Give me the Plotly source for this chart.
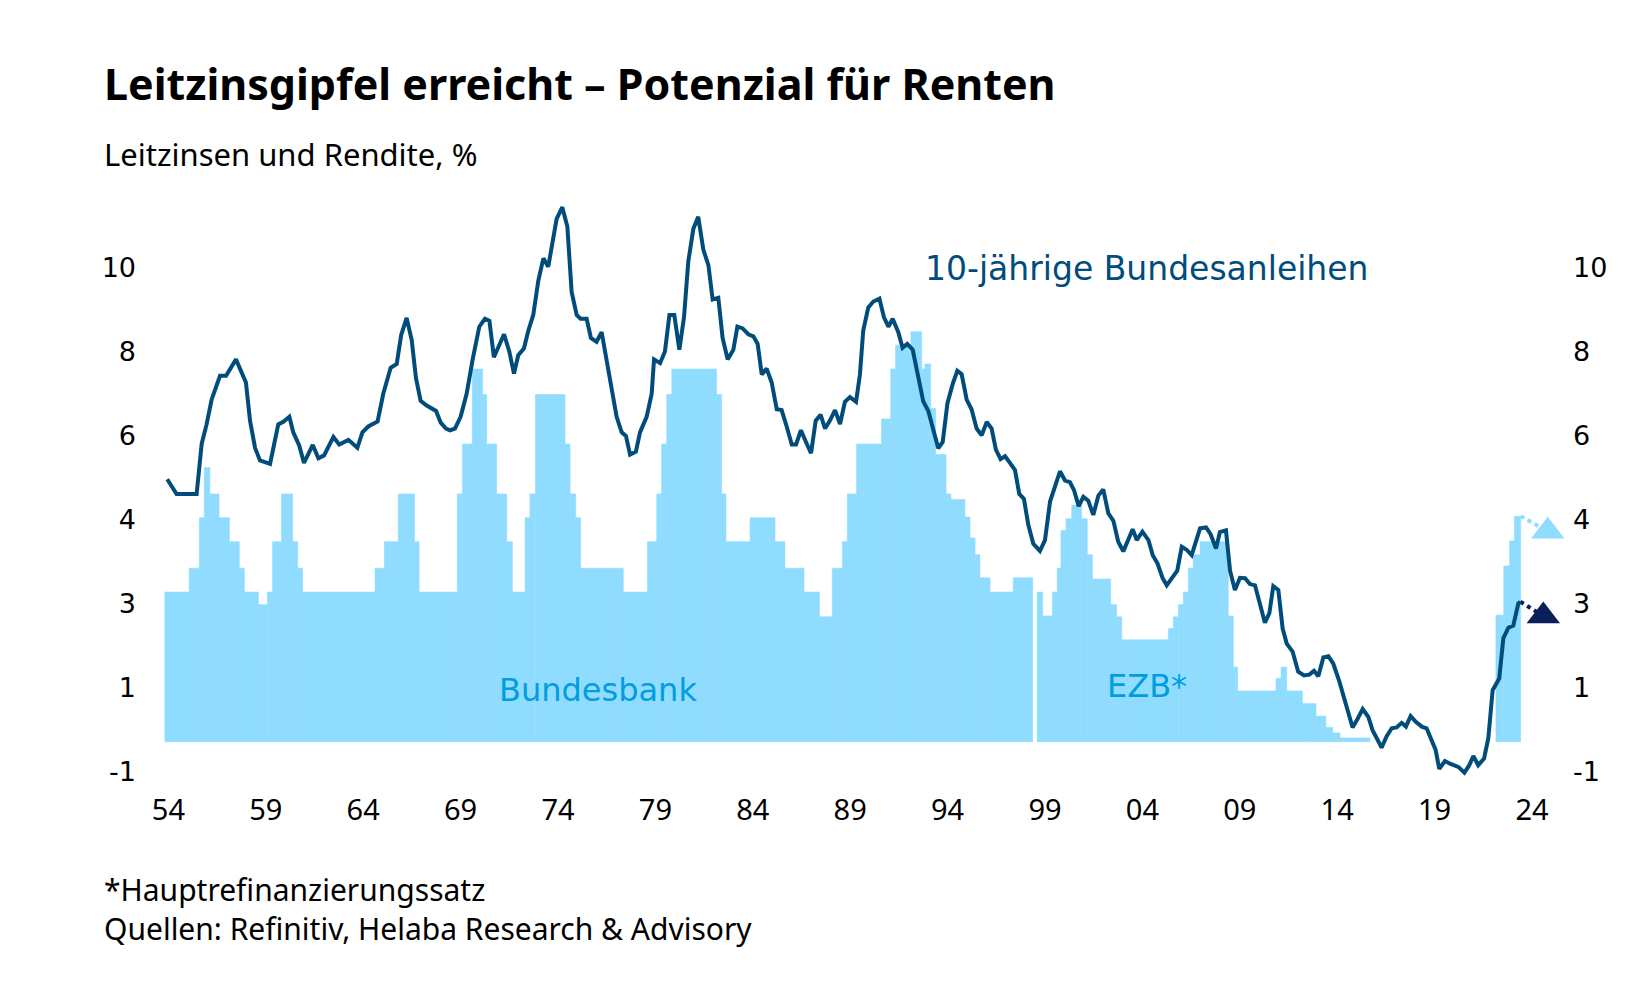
import plotly.graph_objects as go

# ---------------- data (in axis units) ----------------
bund_years = [1953.94, 1954.42, 1955.45, 1955.71, 1955.96, 1956.22, 1956.65, 1956.96, 1957.47, 1957.98,
              1958.19, 1958.45, 1958.70, 1959.22, 1959.64, 1959.90, 1960.21, 1960.41, 1960.72, 1960.96,
              1961.41, 1961.70, 1961.99, 1962.47, 1962.77, 1963.24, 1963.70, 1963.96, 1964.26, 1964.74,
              1965.03, 1965.41, 1965.72, 1965.95, 1966.23, 1966.49, 1966.71, 1966.95, 1967.26, 1967.74,
              1967.98, 1968.25, 1968.46, 1968.71, 1969.00, 1969.31, 1969.62, 1969.96, 1970.25, 1970.48,
              1970.71, 1970.94, 1971.23, 1971.50, 1971.74, 1971.96, 1972.25, 1972.48, 1972.73, 1972.99,
              1973.25, 1973.50, 1973.93, 1974.22, 1974.48, 1974.70, 1974.96, 1975.16, 1975.47, 1975.69,
              1975.98, 1976.24, 1976.50, 1976.75, 1977.01, 1977.27, 1977.49, 1977.70, 1978.00, 1978.21,
              1978.55, 1978.81, 1978.93, 1979.24, 1979.49, 1979.72, 1979.97, 1980.23, 1980.47, 1980.69,
              1980.95, 1981.20, 1981.46, 1981.72, 1981.94, 1982.23, 1982.45, 1982.71, 1983.00, 1983.21,
              1983.48, 1983.77, 1984.03, 1984.25, 1984.46, 1984.71, 1984.97, 1985.23, 1985.48, 1985.74,
              1986.00, 1986.22, 1986.47, 1986.73, 1986.99, 1987.23, 1987.48, 1987.71, 1987.96, 1988.22,
              1988.48, 1988.73, 1988.99, 1989.30, 1989.50, 1989.67, 1989.93, 1990.19, 1990.50, 1990.73,
              1990.96, 1991.18, 1991.47, 1991.69, 1991.93, 1992.21, 1992.50, 1992.75, 1993.01, 1993.27,
              1993.52, 1993.75, 1993.99, 1994.26, 1994.50, 1994.72, 1994.98, 1995.23, 1995.49, 1995.75,
              1996.01, 1996.26, 1996.48, 1996.72, 1996.95, 1997.20, 1997.46, 1997.68, 1997.92, 1998.14,
              1998.40, 1998.74, 1999.00, 1999.26, 1999.51, 1999.77, 2000.03, 2000.28, 2000.49, 2000.73,
              2000.97, 2001.22, 2001.48, 2001.74, 2001.99, 2002.25, 2002.51, 2002.76, 2003.02, 2003.28,
              2003.50, 2003.71, 2004.00, 2004.31, 2004.53, 2004.77, 2005.04, 2005.25, 2005.50, 2005.79,
              2006.02, 2006.27, 2006.53, 2006.79, 2006.96, 2007.27, 2007.50, 2007.78, 2007.98, 2008.29,
              2008.50, 2008.75, 2009.01, 2009.27, 2009.52, 2009.78, 2010.04, 2010.29, 2010.52, 2010.72,
              2010.98, 2011.20, 2011.41, 2011.71, 2012.00, 2012.30, 2012.57, 2012.81, 2013.03, 2013.29,
              2013.55, 2013.80, 2014.11, 2014.45, 2014.79, 2015.03, 2015.31, 2015.60, 2015.82, 2016.06,
              2016.28, 2016.54, 2016.80, 2017.05, 2017.31, 2017.53, 2017.77, 2018.05, 2018.34, 2018.59,
              2018.80, 2019.05, 2019.24, 2019.53, 2019.82, 2020.22, 2020.53, 2020.78, 2020.99, 2021.24,
              2021.54, 2021.76, 2021.98, 2022.32, 2022.53, 2022.79, 2023.04, 2023.30, 2023.40]
bund_values = [4.96, 4.61, 4.61, 5.81, 6.27, 6.86, 7.43, 7.43, 7.82, 7.27,
               6.36, 5.71, 5.41, 5.33, 6.27, 6.33, 6.45, 6.08, 5.76, 5.35,
               5.78, 5.46, 5.53, 5.97, 5.79, 5.90, 5.71, 6.08, 6.22, 6.34,
               7.00, 7.62, 7.71, 8.40, 8.81, 8.28, 7.37, 6.83, 6.72, 6.59,
               6.31, 6.17, 6.13, 6.17, 6.45, 7.00, 7.82, 8.60, 8.79, 8.74,
               7.87, 8.10, 8.42, 8.01, 7.48, 7.92, 8.08, 8.51, 8.88, 9.70,
               10.23, 10.03, 11.17, 11.45, 10.99, 9.43, 8.88, 8.79, 8.79, 8.33,
               8.24, 8.47, 7.78, 7.05, 6.45, 6.08, 5.99, 5.55, 5.62, 6.08,
               6.45, 7.00, 7.82, 7.73, 8.01, 8.88, 8.88, 8.05, 8.83, 10.16,
               10.94, 11.22, 10.44, 10.07, 9.25, 9.29, 8.33, 7.82, 8.05, 8.60,
               8.56, 8.42, 8.37, 8.19, 7.46, 7.60, 7.27, 6.63, 6.61, 6.22,
               5.79, 5.79, 6.13, 5.85, 5.58, 6.36, 6.50, 6.17, 6.36, 6.61,
               6.28, 6.81, 6.92, 6.81, 7.46, 8.51, 9.06, 9.20, 9.27, 8.83,
               8.60, 8.79, 8.47, 8.10, 8.19, 8.05, 7.32, 6.82, 6.59, 6.13,
               5.70, 5.85, 6.77, 7.23, 7.55, 7.47, 6.86, 6.63, 6.17, 6.01,
               6.33, 6.17, 5.67, 5.44, 5.51, 5.35, 5.18, 4.61, 4.49, 3.88,
               3.42, 3.25, 3.51, 4.43, 4.80, 5.15, 4.93, 4.89, 4.70, 4.32,
               4.54, 4.45, 4.11, 4.57, 4.72, 4.15, 3.97, 3.47, 3.24, 3.51,
               3.77, 3.51, 3.71, 3.51, 3.15, 2.96, 2.60, 2.43, 2.61, 2.78,
               3.35, 3.28, 3.15, 3.51, 3.79, 3.81, 3.65, 3.31, 3.70, 3.74,
               2.78, 2.32, 2.61, 2.60, 2.46, 2.43, 1.95, 1.54, 1.77, 2.41,
               2.32, 1.40, 1.04, 0.85, 0.37, 0.28, 0.30, 0.39, 0.26, 0.71,
               0.74, 0.56, 0.14, -0.39, -0.96, -0.77, -0.52, -0.71, -1.03, -1.24,
               -1.44, -1.17, -0.98, -0.96, -0.85, -0.94, -0.69, -0.83, -0.94, -0.98,
               -1.21, -1.49, -1.95, -1.76, -1.83, -1.90, -2.04, -1.86, -1.64, -1.86,
               -1.70, -1.21, -0.07, 0.21, 1.17, 1.42, 1.47, 2.00, 2.04]

# Forecast markers (triangles)
bund_fc_year = [2024.58]
bund_fc_value = [1.70]
rate_fc_year = [2024.81]
rate_fc_value = [3.72]

# Bar baseline (0 % policy rate in axis units)
BASE = -1.3

# Bundesbank policy rate: step start dates and levels
bb_start = [1953.82, 1955.07, 1955.59, 1955.84, 1956.13, 1956.60, 1957.13, 1957.64, 1957.90, 1958.62,
            1959.08, 1959.35, 1959.81, 1960.38, 1960.64, 1960.89, 1964.61, 1965.09, 1965.80, 1966.63,
            1966.87, 1968.83, 1969.09, 1969.60, 1970.13, 1970.34, 1970.85, 1971.37, 1971.66, 1972.31,
            1972.56, 1972.84, 1974.36, 1974.62, 1974.91, 1975.16, 1977.35, 1978.59, 1979.07, 1979.32,
            1979.58, 1979.84, 1982.14, 1982.40, 1982.62, 1983.86, 1985.14, 1985.65, 1986.63, 1987.42,
            1988.08, 1988.60, 1988.85, 1989.33, 1990.61, 1991.08, 1991.33, 1992.12, 1992.67, 1992.84,
            1993.13, 1993.39, 1993.92, 1994.17, 1994.89, 1995.15, 1995.41, 1995.66, 1996.18, 1997.37]
bb_level = [2.27, 2.84, 4.04, 5.24, 4.61, 4.04, 3.47, 2.84, 2.27, 1.97,
            2.27, 3.47, 4.61, 3.47, 2.84, 2.27, 2.84, 3.47, 4.61, 3.47,
            2.27, 4.61, 5.80, 7.59, 6.98, 5.80, 4.61, 3.47, 2.27, 4.04,
            4.61, 6.98, 5.80, 4.61, 4.04, 2.84, 2.27, 3.47, 4.61, 5.80,
            6.98, 7.59, 6.98, 4.61, 3.47, 4.04, 3.47, 2.84, 2.27, 1.68,
            2.84, 3.47, 4.61, 5.80, 6.40, 7.59, 8.16, 8.48, 7.59, 7.71,
            6.65, 5.55, 4.61, 4.48, 4.06, 3.56, 3.16, 2.61, 2.27, 2.61]
bb_end = 1998.37

# ECB main refinancing rate: step start dates and levels
ecb_start = [1998.60, 1998.88, 1999.38, 1999.63, 1999.82, 2000.08, 2000.37, 2000.88, 2001.17, 2001.43,
             2002.37, 2002.68, 2002.94, 2005.33, 2005.59, 2005.85, 2006.10, 2006.36, 2006.61, 2006.96,
             2008.41, 2008.67, 2008.89, 2010.86, 2011.12, 2011.41, 2012.21, 2012.91, 2013.42, 2013.77,
             2014.14, 2015.68, 2022.15, 2022.55, 2022.85, 2023.10]
ecb_level = [2.27, 1.70, 2.27, 2.84, 3.74, 4.02, 4.34, 4.02, 3.16, 2.58,
             1.97, 1.68, 1.13, 1.40, 1.68, 1.97, 2.27, 2.84, 3.16, 3.47,
             1.70, 0.48, -0.09, 0.21, 0.48, -0.09, -0.39, -0.69, -0.96, -1.09,
             -1.21, -1.30, 1.72, 2.89, 3.49, 4.08]
ecb_end = 2023.42

x_tick_years = list(range(1954, 2025, 5))
x_tick_text = [f"{y % 100:02d}" for y in x_tick_years]
y_tick_vals = [-2, 0, 2, 4, 6, 8, 10]
y_tick_text = ["-1", "1", "3", "4", "6", "8", "10"]

# ---------------- styling ----------------
BAR_COLOR = "#8fdcff"
LINE_COLOR = "#004c7a"
NAVY = "#0a1f5c"
LABEL_BLUE = "#009ee0"


def step_bars(starts, levels, end):
    ends = starts[1:] + [end]
    centers = [(s + e) / 2 for s, e in zip(starts, ends)]
    widths = [e - s for s, e in zip(starts, ends)]
    heights = [lv - BASE for lv in levels]
    return centers, widths, heights


fig = go.Figure()

for starts, levels, end in [(bb_start, bb_level, bb_end), (ecb_start, ecb_level, ecb_end)]:
    c, w, h = step_bars(starts, levels, end)
    lw = [0.6 if hh > 0.001 else 0 for hh in h]
    fig.add_trace(go.Bar(x=c, y=h, base=BASE, width=w,
                         marker=dict(color=BAR_COLOR, line=dict(width=lw, color=BAR_COLOR)),
                         showlegend=False, hoverinfo="skip"))

# dotted forecast connectors
fig.add_trace(go.Scatter(x=[ecb_end, rate_fc_year[0]], y=[ecb_level[-1], rate_fc_value[0]], mode="lines",
                         line=dict(color=BAR_COLOR, width=4, dash="dot"), showlegend=False, hoverinfo="skip"))
fig.add_trace(go.Scatter(x=[bund_years[-1], bund_fc_year[0]], y=[bund_values[-1], bund_fc_value[0]], mode="lines",
                         line=dict(color=NAVY, width=4, dash="dot"), showlegend=False, hoverinfo="skip"))

fig.add_trace(go.Scatter(x=bund_years, y=bund_values, mode="lines",
                         line=dict(color=LINE_COLOR, width=4), showlegend=False, hoverinfo="skip"))

fig.add_trace(go.Scatter(x=rate_fc_year, y=rate_fc_value, mode="markers", cliponaxis=False,
                         marker=dict(symbol="triangle-up", size=29, color=BAR_COLOR, line=dict(width=0)),
                         showlegend=False, hoverinfo="skip"))
fig.add_trace(go.Scatter(x=bund_fc_year, y=bund_fc_value, mode="markers", cliponaxis=False,
                         marker=dict(symbol="triangle-up", size=29, color=NAVY, line=dict(width=0)),
                         showlegend=False, hoverinfo="skip"))

# dummy trace for right axis
fig.add_trace(go.Scatter(x=[bund_years[0]], y=[bund_values[0]], yaxis="y2", mode="markers",
                         marker=dict(opacity=0), showlegend=False, hoverinfo="skip"))

YR = [-2.452, 11.861]
axis_font = dict(family="DejaVu Sans", size=27, color="#000000")

fig.update_layout(
    width=1650, height=1000,
    margin=dict(l=145, r=84, t=190, b=210),
    paper_bgcolor="white", plot_bgcolor="white",
    barmode="overlay",
    xaxis=dict(range=[1952.799, 2025.746], tickvals=x_tick_years, ticktext=x_tick_text,
               showgrid=False, zeroline=False, showline=False, ticks="",
               tickfont=dict(family="Noto Sans", size=29, color="#000000")),
    yaxis=dict(range=YR, tickvals=y_tick_vals, ticktext=y_tick_text, showgrid=False, zeroline=False,
               showline=False, ticks="", tickfont=axis_font, ticklabelstandoff=8),
    yaxis2=dict(range=YR, tickvals=y_tick_vals, ticktext=y_tick_text, overlaying="y", side="right",
                showgrid=False, zeroline=False, showline=False, ticks="", tickfont=axis_font,
                ticklabelstandoff=6),
    font=dict(family="Noto Sans", color="#000000"),
)

ann = [
    dict(text="<b>Leitzinsgipfel erreicht – Potenzial für Renten</b>", x=-0.0303, y=1.1767,
         font=dict(family="Noto Sans", size=43, color="#000000")),
    dict(text="Leitzinsen und Rendite, %", x=-0.0303, y=1.06,
         font=dict(family="Noto Sans", size=31, color="#000000")),
    dict(text="*Hauptrefinanzierungssatz<br>Quellen: Refinitiv, Helaba Research & Advisory",
         x=-0.0303, y=-0.1983, align="left",
         font=dict(family="Noto Sans", size=30, color="#000000")),
]
for a in ann:
    fig.add_annotation(xref="paper", yref="paper", xanchor="left", yanchor="middle", showarrow=False, **a)

fig.add_annotation(x=2004.24, y=10.0, xref="x", yref="y", text="10-jährige Bundesanleihen", showarrow=False,
                   xanchor="center", yanchor="middle", font=dict(family="DejaVu Sans", size=33, color=LINE_COLOR))
fig.add_annotation(x=1976.05, y=-0.07, xref="x", yref="y", text="Bundesbank", showarrow=False,
                   xanchor="center", yanchor="middle", font=dict(family="DejaVu Sans", size=32, color=LABEL_BLUE))
fig.add_annotation(x=2004.24, y=0.03, xref="x", yref="y", text="EZB*", showarrow=False,
                   xanchor="center", yanchor="middle", font=dict(family="DejaVu Sans", size=32, color=LABEL_BLUE))

fig.write_html("out.html")
